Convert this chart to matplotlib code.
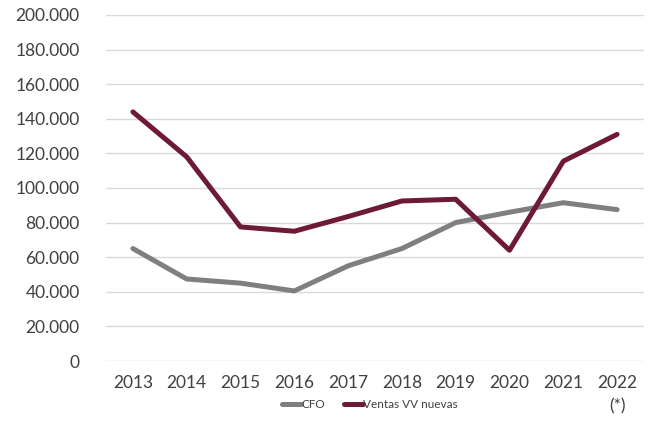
import matplotlib
matplotlib.use("Agg")
import matplotlib.pyplot as plt
from matplotlib.ticker import FuncFormatter

years = ["2013", "2014", "2015", "2016", "2017", "2018", "2019", "2020", "2021", "2022\n(*)"]
cfo = [65000, 47400, 45000, 40500, 55000, 65000, 80000, 86000, 91500, 87500]
ventas = [144000, 118000, 77500, 75000, 83500, 92500, 93500, 64000, 115500, 131000]

plt.rcParams['font.family'] = ['Lato', 'DejaVu Sans']

fig = plt.figure(figsize=(6.58, 4.21), dpi=100)
ax = fig.add_axes([106/658, 1-361/421, (644-106)/658, (361-15)/421])

x = list(range(len(years)))
l1, = ax.plot(x, cfo, color="#7f7f7f", lw=3.6, solid_capstyle="round", label="CFO")
l2, = ax.plot(x, ventas, color="#6d1a36", lw=3.6, solid_capstyle="round", label="Ventas VV nuevas")

ax.set_xlim(-0.5, len(years) - 0.5)
ax.set_ylim(0, 200000)
ax.set_yticks(range(0, 200001, 20000))
ax.yaxis.set_major_formatter(FuncFormatter(lambda v, p: "0" if v == 0 else f"{int(v):,}".replace(",", ".")))
ax.set_xticks(x)
ax.set_xticklabels(years)
ax.grid(axis="y", color="#d9d9d9", lw=1)
ax.set_axisbelow(True)
for s in ax.spines.values():
    s.set_visible(False)
ax.tick_params(axis="both", length=0, labelsize=12.5, colors="#404040")
ax.tick_params(axis="y", pad=19)
ax.tick_params(axis="x", pad=10)
for lab in ax.get_xticklabels():
    lab.set_linespacing(1.6)

fig.legend(handles=[l1, l2], loc="center", bbox_to_anchor=(370/658, 1-405/421), ncol=2,
           frameon=False, fontsize=8.5, handlelength=1.6, handletextpad=0.05, columnspacing=1.6,
           labelcolor="#404040")

fig.savefig("out.png", dpi=100)
